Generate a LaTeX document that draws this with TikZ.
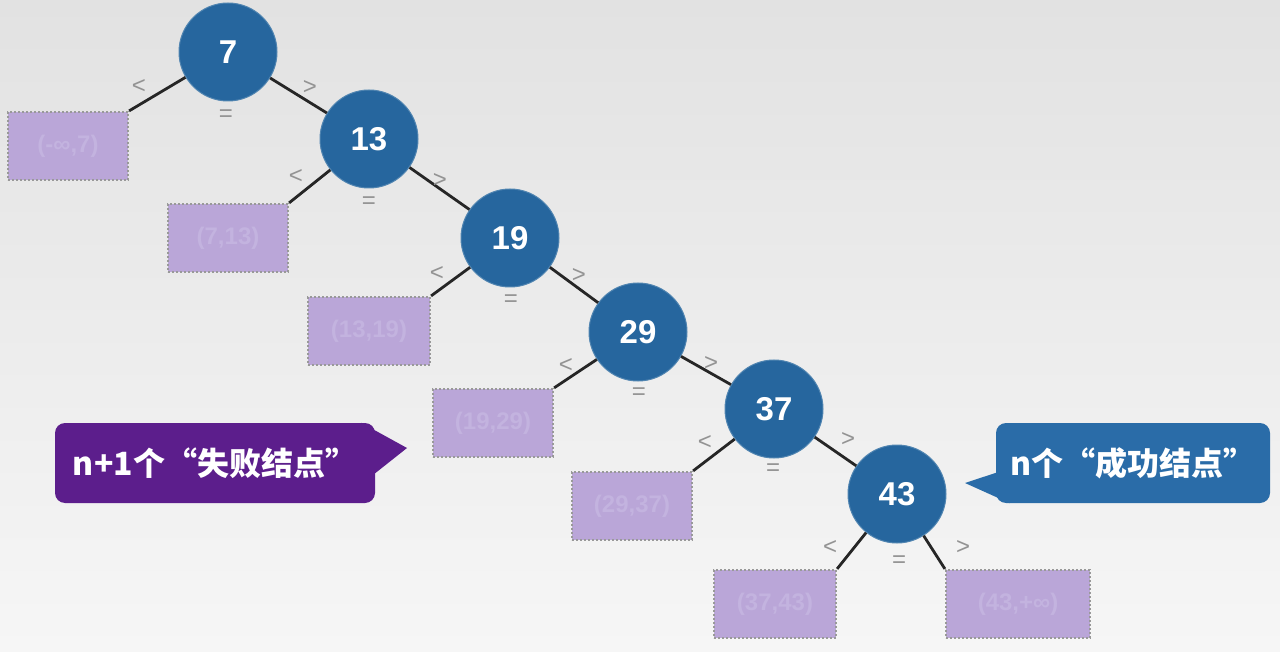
\documentclass[tikz,border=0pt]{standalone}
\usepackage{fontspec}
\setmainfont{Liberation Sans}
\newfontfamily\cjk{Noto Sans CJK SC}
\usetikzlibrary{calc}
\definecolor{nodeblue}{RGB}{38,102,158}
\definecolor{boxfill}{RGB}{186,166,216}
\definecolor{boxtext}{RGB}{195,179,223}
\definecolor{purp}{RGB}{92,30,140}
\definecolor{cblue}{RGB}{42,108,168}
\definecolor{bgtop}{RGB}{226,226,226}
\definecolor{bgbot}{RGB}{246,246,246}
\begin{document}
\begin{tikzpicture}[x=1pt,y=-1pt,
  bnode/.style={circle, fill=nodeblue, draw=nodeblue!80!white, line width=1pt, minimum size=98pt, inner sep=0pt, text=white, font=\bfseries\fontsize{33}{33}\selectfont},
  fbox/.style={rectangle, fill=boxfill, draw=gray!80, dash pattern=on 2pt off 2pt, line width=2.2pt, minimum width=120pt, minimum height=68pt, inner sep=0pt, text=boxtext, font=\bfseries\fontsize{24}{24}\selectfont},
  edgeline/.style={line width=2.8pt, draw=black!85},
  lbl/.style={text=gray!85, font=\fontsize{24}{24}\selectfont, inner sep=0pt},
  callbox/.style={rectangle, rounded corners=10pt, minimum height=80pt, inner sep=0pt, text=white, font=\cjk\bfseries\fontsize{32}{32}\selectfont},
]
\shade[top color=bgtop, bottom color=bgbot] (0,0) rectangle (1280,652);
\useasboundingbox (0,0) rectangle (1280,652);

% tree nodes
\node[bnode] (n7)  at (228,52)  {7};
\node[bnode] (n13) at (369,139) {13};
\node[bnode] (n19) at (510,238) {19};
\node[bnode] (n29) at (638,332) {29};
\node[bnode] (n37) at (774,409) {37};
\node[bnode] (n43) at (897,494) {43};

% failure boxes
\node[fbox] (b1) at (68,146)  {(-∞,7)};
\node[fbox] (b2) at (228,238) {(7,13)};
\node[fbox, minimum width=122pt] (b3) at (369,331) {(13,19)};
\node[fbox] (b4) at (493,423) {(19,29)};
\node[fbox] (b5) at (632,506) {(29,37)};
\node[fbox, minimum width=122pt] (b6) at (775,604) {(37,43)};
\node[fbox, minimum width=144pt] (b7) at (1018,604) {(43,+∞)};

% edges
\draw[edgeline] (n7) -- (b1.north east);
\draw[edgeline] (n7) -- (n13);
\draw[edgeline] (n13) -- (b2.north east);
\draw[edgeline] (n13) -- (n19);
\draw[edgeline] (n19) -- (b3.north east);
\draw[edgeline] (n19) -- (n29);
\draw[edgeline] (n29) -- (b4.north east);
\draw[edgeline] (n29) -- (n37);
\draw[edgeline] (n37) -- (b5.north east);
\draw[edgeline] (n37) -- (n43);
\draw[edgeline] (n43) -- (b6.north east);
\draw[edgeline] (n43) -- (b7.north west);

% comparison labels
\node[lbl] (l7a) at (139,87) {<};  \node[lbl] (l7b) at (310,88) {>};  \node[lbl] (l7c) at (226,116) {=};
\node[lbl] (l13a) at (296,177) {<}; \node[lbl] (l13b) at (440,181) {>}; \node[lbl] (l13c) at (369,203) {=};
\node[lbl] (l19a) at (437,274) {<}; \node[lbl] (l19b) at (579,276) {>}; \node[lbl] (l19c) at (511,301) {=};
\node[lbl] (l29a) at (566,366) {<}; \node[lbl] (l29b) at (711,364) {>}; \node[lbl] (l29c) at (639,394) {=};
\node[lbl] (l37a) at (705,443) {<}; \node[lbl] (l37b) at (848,440) {>}; \node[lbl] (l37c) at (773,470) {=};
\node[lbl] (l43a) at (830,548) {<}; \node[lbl] (l43b) at (963,548) {>}; \node[lbl] (l43c) at (899,562) {=};

% callouts
\node[callbox, fill=purp, minimum width=320pt] (cf) at (215,463) {n+1个“失败结点”};
\coordinate (tipf) at (407,448);
\fill[purp] ($(cf.north east)+(-14,0)$) -- (tipf) -- ($(cf.north east)+(-2,52)$) -- ($(cf.north east)+(-14,52)$) -- cycle;

\node[callbox, fill=cblue, minimum width=274pt] (cs) at (1133,463) {n个“成功结点”};
\coordinate (tips) at (965,483);
\fill[cblue] ($(cs.south west)+(2,-31)$) -- (tips) -- ($(cs.south west)+(14,0)$) -- ($(cs.south west)+(14,-31)$) -- cycle;
\end{tikzpicture}
\end{document}
